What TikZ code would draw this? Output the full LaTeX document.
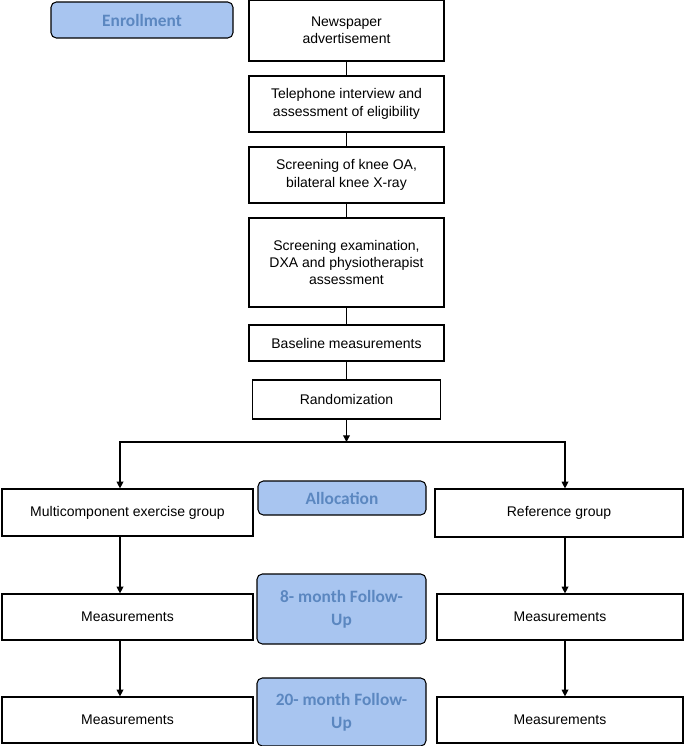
\documentclass[tikz,border=0pt]{standalone}
\usepackage{fontspec}
\setmainfont{Liberation Sans}
\newfontfamily\lblfont{Carlito}
\usetikzlibrary{arrows.meta}
\definecolor{lblfill}{HTML}{A8C5F0}
\definecolor{lbltext}{HTML}{5B87C0}
\begin{document}
\begin{tikzpicture}[x=0.75pt,y=-0.75pt,
  box/.style={draw,line width=0.9pt,align=center,font=\fontsize{10.5}{13}\selectfont,inner sep=0pt},
  lbl/.style={draw,line width=0.8pt,rounded corners=4pt,fill=lblfill,text=lbltext,align=center,font=\lblfont\bfseries\fontsize{13}{17}\selectfont,inner sep=0pt},
  arr/.style={-{Triangle[length=5pt,width=5pt]},line width=0.9pt}]
\useasboundingbox (0,0) rectangle (685,746);
\newcommand{\bx}[6]{\node[#6,minimum width=#4*0.75pt,minimum height=#5*0.75pt] (#1) at (#2,#3) {};}
% main column
\node[box,minimum width=195*0.75pt,minimum height=61*0.75pt] (n1) at (346.5,30.5) {Newspaper\\advertisement};
\node[box,minimum width=195*0.75pt,minimum height=56*0.75pt] (n2) at (346.5,104) {Telephone interview and\\assessment of eligibility};
\node[box,minimum width=195*0.75pt,minimum height=56*0.75pt] (n3) at (346.5,175) {Screening of knee OA,\\bilateral knee X-ray};
\node[box,minimum width=195*0.75pt,minimum height=89*0.75pt] (n4) at (346.5,262.5) {Screening examination,\\DXA and physiotherapist\\assessment};
\node[box,minimum width=195*0.75pt,minimum height=36*0.75pt] (n5) at (346.5,343) {Baseline measurements};
\node[box,minimum width=188*0.75pt,minimum height=39*0.75pt] (n6) at (346.5,399.5) {Randomization};
\node[box,minimum width=251*0.75pt,minimum height=47*0.75pt] (l1) at (127.5,512.5) {Multicomponent exercise group};
\node[box,minimum width=248*0.75pt,minimum height=48*0.75pt] (r1) at (559,513) {Reference group};
\node[box,minimum width=251*0.75pt,minimum height=46*0.75pt] (l2) at (127.5,617) {Measurements};
\node[box,minimum width=246*0.75pt,minimum height=46*0.75pt] (r2) at (560,617) {Measurements};
\node[box,minimum width=251*0.75pt,minimum height=46*0.75pt] (l3) at (127.5,720) {Measurements};
\node[box,minimum width=246*0.75pt,minimum height=46*0.75pt] (r3) at (560,720) {Measurements};
% labels
\node[lbl,minimum width=182*0.75pt,minimum height=36*0.75pt] (e) at (142,20) {Enrollment};
\node[lbl,minimum width=168*0.75pt,minimum height=34*0.75pt] (a) at (342,498) {Allocation};
\node[lbl,minimum width=169*0.75pt,minimum height=70*0.75pt] (f8) at (341.5,609) {8- month Follow-\\Up};
\node[lbl,minimum width=169*0.75pt,minimum height=68*0.75pt] (f20) at (341.5,712) {20- month Follow-\\Up};
% connectors
\draw[line width=0.9pt] (n1) -- (n2);
\draw[line width=0.9pt] (n2) -- (n3);
\draw[line width=0.9pt] (n3) -- (n4);
\draw[line width=0.9pt] (n4) -- (n5);
\draw[line width=0.9pt] (n5) -- (n6);
\coordinate (s) at (346.5,442);
\draw[arr] (n6) -- (s);
\draw[arr] (s) -| (l1.north -| 120,0) ;
\draw[arr] (s) -| (r1.north -| 565,0);
\draw[arr] (l1.south -| 120,0) -- (l2.north -| 120,0);
\draw[arr] (l2.south -| 120,0) -- (l3.north -| 120,0);
\draw[arr] (r1.south -| 565,0) -- (r2.north -| 565,0);
\draw[arr] (r2.south -| 565,0) -- (r3.north -| 565,0);
\end{tikzpicture}
\end{document}
